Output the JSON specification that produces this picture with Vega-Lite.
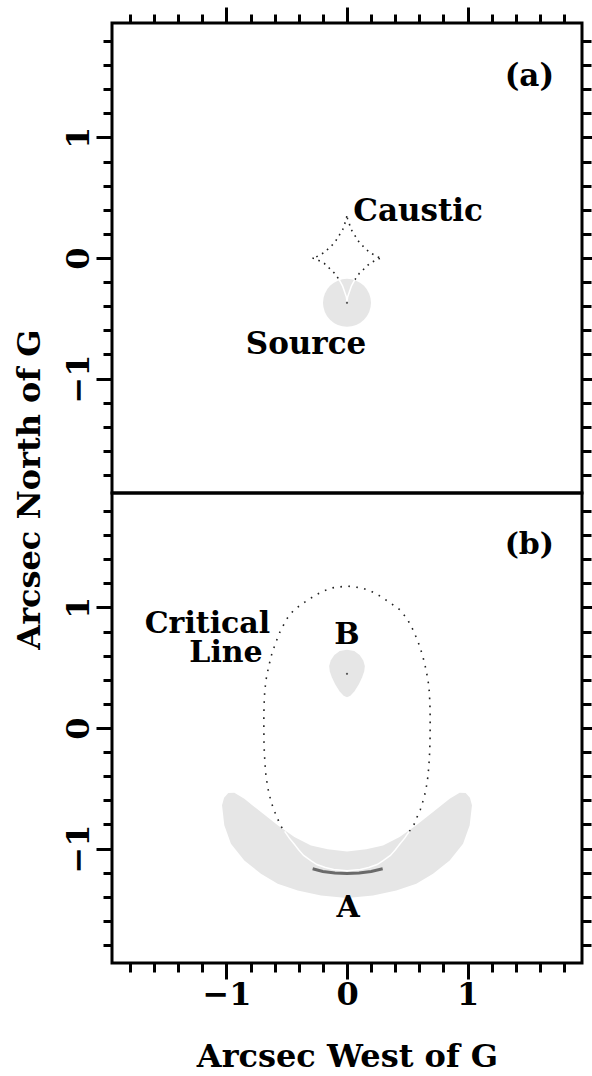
{
  "$schema": "https://vega.github.io/schema/vega-lite/v6.json",
  "padding": {"left": 11, "top": 4, "right": 0, "bottom": 0},
  "background": "white",
  "spacing": 0,
  "bounds": "flush",
  "config": {
    "view": {"stroke": "black", "strokeWidth": 3},
    "font": "DejaVu Serif",
    "axis": {
      "domain": false, "grid": false, "tickColor": "black", "tickWidth": 3, "tickCap": "butt",
      "labelFont": "DejaVu Serif", "labelFontWeight": "bold", "labelFontSize": 32, "labelColor": "black",
      "titleFont": "DejaVu Serif", "titleFontWeight": "bold", "titleFontSize": 32, "titleColor": "black",
      "labelOverlap": false, "labelFlush": false, "labelBound": false
    }
  },
  "datasets": {
    "src": [{"x": 0, "y": -0.372}],
    "bdot": [{"x": 0, "y": 0.45}],
    "causticDot": [
      {"i": 0, "x": 0.0654, "y": -0.1798}, {"i": 1, "x": 0.1025, "y": -0.1273}, {"i": 2, "x": 0.1884, "y": -0.045},
      {"i": 3, "x": 0.2613, "y": -0.0062}, {"i": 4, "x": 0.29, "y": 0}, {"i": 5, "x": 0.2613, "y": 0.0062},
      {"i": 6, "x": 0.1884, "y": 0.045}, {"i": 7, "x": 0.1025, "y": 0.1273}, {"i": 8, "x": 0.0363, "y": 0.2338},
      {"i": 9, "x": 0.005, "y": 0.3244}, {"i": 10, "x": 0, "y": 0.36}, {"i": 11, "x": -0.005, "y": 0.3244},
      {"i": 12, "x": -0.0363, "y": 0.2338}, {"i": 13, "x": -0.1025, "y": 0.1273}, {"i": 14, "x": -0.1884, "y": 0.045},
      {"i": 15, "x": -0.2613, "y": 0.0062}, {"i": 16, "x": -0.29, "y": 0}, {"i": 17, "x": -0.2613, "y": -0.0062},
      {"i": 18, "x": -0.1884, "y": -0.045}, {"i": 19, "x": -0.1025, "y": -0.1273}, {"i": 20, "x": -0.0654, "y": -0.1798}
    ],
    "causticWhite": [
      {"i": 0, "x": -0.0654, "y": -0.1798}, {"i": 1, "x": -0.0363, "y": -0.2338}, {"i": 2, "x": -0.005, "y": -0.3244},
      {"i": 3, "x": 0, "y": -0.36}, {"i": 4, "x": 0.005, "y": -0.3244}, {"i": 5, "x": 0.0363, "y": -0.2338},
      {"i": 6, "x": 0.0654, "y": -0.1798}
    ],
    "labelsA": [
      {"label": "(a)", "x": 1.513, "y": 1.504},
      {"label": "Caustic", "x": 0.59, "y": 0.383},
      {"label": "Source", "x": -0.34, "y": -0.72}
    ],
    "labelsB": [
      {"label": "(b)", "x": 1.513, "y": 1.52},
      {"label": "B", "x": 0, "y": 0.771},
      {"label": "A", "x": 0.01, "y": -1.49},
      {"label": "Critical", "x": -1.158, "y": 0.866},
      {"label": "Line", "x": -1.004, "y": 0.62}
    ],
    "arcA": [
      {"i": 0, "x": -0.985, "y": -0.54}, {"i": 1, "x": -1.02, "y": -0.578}, {"i": 2, "x": -1.037, "y": -0.642},
      {"i": 3, "x": -1.018, "y": -0.808}, {"i": 4, "x": -0.963, "y": -0.961}, {"i": 5, "x": -0.852, "y": -1.099},
      {"i": 6, "x": -0.714, "y": -1.21}, {"i": 7, "x": -0.575, "y": -1.293}, {"i": 8, "x": -0.409, "y": -1.348},
      {"i": 9, "x": -0.216, "y": -1.389}, {"i": 10, "x": 0, "y": -1.41}, {"i": 11, "x": 0.216, "y": -1.389},
      {"i": 12, "x": 0.409, "y": -1.348}, {"i": 13, "x": 0.575, "y": -1.293}, {"i": 14, "x": 0.714, "y": -1.21},
      {"i": 15, "x": 0.852, "y": -1.099}, {"i": 16, "x": 0.963, "y": -0.961}, {"i": 17, "x": 1.018, "y": -0.808},
      {"i": 18, "x": 1.037, "y": -0.642}, {"i": 19, "x": 1.02, "y": -0.578}, {"i": 20, "x": 0.985, "y": -0.54},
      {"i": 21, "x": 0.935, "y": -0.538}, {"i": 22, "x": 0.852, "y": -0.588}, {"i": 23, "x": 0.714, "y": -0.698},
      {"i": 24, "x": 0.575, "y": -0.808}, {"i": 25, "x": 0.437, "y": -0.905}, {"i": 26, "x": 0.299, "y": -0.974},
      {"i": 27, "x": 0.16, "y": -1.007}, {"i": 28, "x": 0, "y": -1.025}, {"i": 29, "x": -0.16, "y": -1.007},
      {"i": 30, "x": -0.299, "y": -0.974}, {"i": 31, "x": -0.437, "y": -0.905}, {"i": 32, "x": -0.575, "y": -0.808},
      {"i": 33, "x": -0.714, "y": -0.698}, {"i": 34, "x": -0.852, "y": -0.588}, {"i": 35, "x": -0.935, "y": -0.538}
    ],
    "blobB": [
      {"i": 0, "x": 0, "y": 0.649}, {"i": 1, "x": 0.06, "y": 0.638}, {"i": 2, "x": 0.105, "y": 0.605},
      {"i": 3, "x": 0.135, "y": 0.56}, {"i": 4, "x": 0.148, "y": 0.515}, {"i": 5, "x": 0.143, "y": 0.47},
      {"i": 6, "x": 0.125, "y": 0.42}, {"i": 7, "x": 0.097, "y": 0.36}, {"i": 8, "x": 0.062, "y": 0.305},
      {"i": 9, "x": 0.028, "y": 0.268}, {"i": 10, "x": 0, "y": 0.256}, {"i": 11, "x": -0.028, "y": 0.268},
      {"i": 12, "x": -0.062, "y": 0.305}, {"i": 13, "x": -0.097, "y": 0.36}, {"i": 14, "x": -0.125, "y": 0.42},
      {"i": 15, "x": -0.143, "y": 0.47}, {"i": 16, "x": -0.148, "y": 0.515}, {"i": 17, "x": -0.135, "y": 0.56},
      {"i": 18, "x": -0.105, "y": 0.605}, {"i": 19, "x": -0.06, "y": 0.638}
    ],
    "critDot": [
      {"i": 0, "x": 0.517, "y": -0.858}, {"i": 1, "x": 0.553, "y": -0.808}, {"i": 2, "x": 0.581, "y": -0.739},
      {"i": 3, "x": 0.608, "y": -0.679}, {"i": 4, "x": 0.628, "y": -0.615}, {"i": 5, "x": 0.647, "y": -0.546},
      {"i": 6, "x": 0.66, "y": -0.48}, {"i": 7, "x": 0.672, "y": -0.4}, {"i": 8, "x": 0.68, "y": -0.3},
      {"i": 9, "x": 0.686, "y": -0.2}, {"i": 10, "x": 0.689, "y": -0.1}, {"i": 11, "x": 0.69, "y": 0},
      {"i": 12, "x": 0.69, "y": 0.1}, {"i": 13, "x": 0.688, "y": 0.2}, {"i": 14, "x": 0.683, "y": 0.3},
      {"i": 15, "x": 0.672, "y": 0.4}, {"i": 16, "x": 0.652, "y": 0.5}, {"i": 17, "x": 0.628, "y": 0.6},
      {"i": 18, "x": 0.595, "y": 0.7}, {"i": 19, "x": 0.555, "y": 0.8}, {"i": 20, "x": 0.5, "y": 0.905},
      {"i": 21, "x": 0.44, "y": 0.98}, {"i": 22, "x": 0.35, "y": 1.045}, {"i": 23, "x": 0.265, "y": 1.1},
      {"i": 24, "x": 0.2, "y": 1.135}, {"i": 25, "x": 0.12, "y": 1.163}, {"i": 26, "x": 0, "y": 1.178},
      {"i": 27, "x": -0.12, "y": 1.163}, {"i": 28, "x": -0.2, "y": 1.135}, {"i": 29, "x": -0.265, "y": 1.1},
      {"i": 30, "x": -0.35, "y": 1.045}, {"i": 31, "x": -0.44, "y": 0.98}, {"i": 32, "x": -0.5, "y": 0.905},
      {"i": 33, "x": -0.555, "y": 0.8}, {"i": 34, "x": -0.595, "y": 0.7}, {"i": 35, "x": -0.628, "y": 0.6},
      {"i": 36, "x": -0.652, "y": 0.5}, {"i": 37, "x": -0.672, "y": 0.4}, {"i": 38, "x": -0.683, "y": 0.3},
      {"i": 39, "x": -0.688, "y": 0.2}, {"i": 40, "x": -0.69, "y": 0.1}, {"i": 41, "x": -0.69, "y": 0},
      {"i": 42, "x": -0.689, "y": -0.1}, {"i": 43, "x": -0.686, "y": -0.2}, {"i": 44, "x": -0.68, "y": -0.3},
      {"i": 45, "x": -0.672, "y": -0.4}, {"i": 46, "x": -0.66, "y": -0.48}, {"i": 47, "x": -0.647, "y": -0.546},
      {"i": 48, "x": -0.628, "y": -0.615}, {"i": 49, "x": -0.608, "y": -0.679}, {"i": 50, "x": -0.581, "y": -0.739},
      {"i": 51, "x": -0.553, "y": -0.808}, {"i": 52, "x": -0.517, "y": -0.858}
    ],
    "critWhite": [
      {"i": 0, "x": -0.517, "y": -0.858}, {"i": 1, "x": -0.48, "y": -0.912}, {"i": 2, "x": -0.44, "y": -0.96},
      {"i": 3, "x": -0.4, "y": -1.012}, {"i": 4, "x": -0.36, "y": -1.057}, {"i": 5, "x": -0.3, "y": -1.1},
      {"i": 6, "x": -0.25, "y": -1.133}, {"i": 7, "x": -0.18, "y": -1.158}, {"i": 8, "x": -0.11, "y": -1.175},
      {"i": 9, "x": 0, "y": -1.185}, {"i": 10, "x": 0.11, "y": -1.175}, {"i": 11, "x": 0.18, "y": -1.158},
      {"i": 12, "x": 0.25, "y": -1.133}, {"i": 13, "x": 0.3, "y": -1.1}, {"i": 14, "x": 0.36, "y": -1.057},
      {"i": 15, "x": 0.4, "y": -1.012}, {"i": 16, "x": 0.44, "y": -0.96}, {"i": 17, "x": 0.48, "y": -0.912},
      {"i": 18, "x": 0.517, "y": -0.858}
    ],
    "darkArc": [
      {"i": 0, "x": -0.285, "y": -1.168}, {"i": 1, "x": -0.2, "y": -1.19}, {"i": 2, "x": -0.1, "y": -1.204},
      {"i": 3, "x": 0, "y": -1.208}, {"i": 4, "x": 0.1, "y": -1.204}, {"i": 5, "x": 0.2, "y": -1.19},
      {"i": 6, "x": 0.296, "y": -1.168}
    ]
  },
  "vconcat": [
    {
      "width": 470, "height": 470,
      "resolve": {"axis": {"x": "independent", "y": "independent"}},
      "layer": [
        {
          "data": {"name": "src"},
          "mark": {"type": "point", "filled": true, "color": "#e6e6e6", "opacity": 1, "size": 2304, "shape": "circle"},
          "encoding": {
            "x": {"field": "x", "type": "quantitative", "scale": {"domain": [-1.95, 1.95], "nice": false, "zero": false},
              "axis": {"orient": "top", "title": null, "labels": false,
                "values": [-1.8,-1.6,-1.4,-1.2,-1,-0.8,-0.6,-0.4,-0.2,0,0.2,0.4,0.6,0.8,1,1.2,1.4,1.6,1.8],
                "tickSize": {"condition": {"test": "abs(datum.value - round(datum.value)) < 0.01", "value": 16}, "value": 9}}},
            "y": {"field": "y", "type": "quantitative", "scale": {"domain": [-1.95, 1.95], "nice": false, "zero": false},
              "axis": {"orient": "left", "title": "Arcsec North of G",
                "values": [-1.8,-1.6,-1.4,-1.2,-1,-0.8,-0.6,-0.4,-0.2,0,0.2,0.4,0.6,0.8,1,1.2,1.4,1.6,1.8],
                "tickSize": {"condition": {"test": "abs(datum.value - round(datum.value)) < 0.01", "value": 16}, "value": 9},
                "labelExpr": "abs(datum.value - round(datum.value)) < 0.01 ? format(round(datum.value), 'd') : ''",
                "labelAngle": -90, "labelAlign": "center", "labelBaseline": "bottom", "labelPadding": 1,
                "titleFontSize": 32, "titleAngle": -90, "titleX": -73, "titleY": 466, "titleAlign": "center", "titleBaseline": "alphabetic"}}
          }
        },
        {
          "data": {"name": "causticDot"},
          "mark": {"type": "line", "color": "#222222", "strokeWidth": 1.6, "strokeDash": [1.6, 4.8]},
          "encoding": {
            "x": {"field": "x", "type": "quantitative", "scale": {"domain": [-1.95, 1.95], "nice": false, "zero": false}, "axis": null},
            "y": {"field": "y", "type": "quantitative", "scale": {"domain": [-1.95, 1.95], "nice": false, "zero": false}, "axis": null},
            "order": {"field": "i", "type": "quantitative"}
          }
        },
        {
          "data": {"name": "causticWhite"},
          "mark": {"type": "line", "color": "white", "strokeWidth": 1.5},
          "encoding": {
            "x": {"field": "x", "type": "quantitative", "scale": {"domain": [-1.95, 1.95], "nice": false, "zero": false}, "axis": null},
            "y": {"field": "y", "type": "quantitative", "scale": {"domain": [-1.95, 1.95], "nice": false, "zero": false}, "axis": null},
            "order": {"field": "i", "type": "quantitative"}
          }
        },
        {
          "data": {"name": "src"},
          "mark": {"type": "point", "filled": true, "color": "#555555", "opacity": 1, "size": 5},
          "encoding": {
            "x": {"field": "x", "type": "quantitative", "scale": {"domain": [-1.95, 1.95], "nice": false, "zero": false}, "axis": null},
            "y": {"field": "y", "type": "quantitative", "scale": {"domain": [-1.95, 1.95], "nice": false, "zero": false},
              "axis": {"orient": "right", "title": null, "labels": false,
                "values": [-1.8,-1.6,-1.4,-1.2,-1,-0.8,-0.6,-0.4,-0.2,0,0.2,0.4,0.6,0.8,1,1.2,1.4,1.6,1.8],
                "tickSize": {"condition": {"test": "abs(datum.value - round(datum.value)) < 0.01", "value": 16}, "value": 9}}}
          }
        },
        {
          "data": {"name": "labelsA"},
          "mark": {"type": "text", "font": "DejaVu Serif", "fontWeight": "bold", "fontSize": 31, "color": "black"},
          "encoding": {
            "x": {"field": "x", "type": "quantitative", "scale": {"domain": [-1.95, 1.95], "nice": false, "zero": false}, "axis": null},
            "y": {"field": "y", "type": "quantitative", "scale": {"domain": [-1.95, 1.95], "nice": false, "zero": false}, "axis": null},
            "text": {"field": "label", "type": "nominal"}
          }
        }
      ]
    },
    {
      "width": 470, "height": 470,
      "resolve": {"axis": {"x": "independent", "y": "independent"}},
      "layer": [
        {
          "data": {"name": "arcA"},
          "mark": {"type": "line", "fill": "#e6e6e6", "stroke": null, "strokeWidth": 0},
          "encoding": {
            "x": {"field": "x", "type": "quantitative", "scale": {"domain": [-1.95, 1.95], "nice": false, "zero": false},
              "axis": {"orient": "bottom", "title": "Arcsec West of G",
                "values": [-1.8,-1.6,-1.4,-1.2,-1,-0.8,-0.6,-0.4,-0.2,0,0.2,0.4,0.6,0.8,1,1.2,1.4,1.6,1.8],
                "tickSize": {"condition": {"test": "abs(datum.value - round(datum.value)) < 0.01", "value": 16}, "value": 9},
                "labelExpr": "abs(datum.value - round(datum.value)) < 0.01 ? format(round(datum.value), 'd') : ''",
                "labelAngle": 0, "labelAlign": "center", "labelBaseline": "top", "labelPadding": 0,
                "titleFontSize": 32, "titleX": 235, "titleY": 103, "titleAlign": "center", "titleBaseline": "alphabetic"}},
            "y": {"field": "y", "type": "quantitative", "scale": {"domain": [-1.95, 1.95], "nice": false, "zero": false},
              "axis": {"orient": "left", "title": null,
                "values": [-1.8,-1.6,-1.4,-1.2,-1,-0.8,-0.6,-0.4,-0.2,0,0.2,0.4,0.6,0.8,1,1.2,1.4,1.6,1.8],
                "tickSize": {"condition": {"test": "abs(datum.value - round(datum.value)) < 0.01", "value": 16}, "value": 9},
                "labelExpr": "abs(datum.value - round(datum.value)) < 0.01 ? format(round(datum.value), 'd') : ''",
                "labelAngle": -90, "labelAlign": "center", "labelBaseline": "bottom", "labelPadding": 1}},
            "order": {"field": "i", "type": "quantitative"}
          }
        },
        {
          "data": {"name": "blobB"},
          "mark": {"type": "line", "fill": "#e6e6e6", "stroke": null, "strokeWidth": 0},
          "encoding": {
            "x": {"field": "x", "type": "quantitative", "scale": {"domain": [-1.95, 1.95], "nice": false, "zero": false}, "axis": null},
            "y": {"field": "y", "type": "quantitative", "scale": {"domain": [-1.95, 1.95], "nice": false, "zero": false},
              "axis": {"orient": "right", "title": null, "labels": false,
                "values": [-1.8,-1.6,-1.4,-1.2,-1,-0.8,-0.6,-0.4,-0.2,0,0.2,0.4,0.6,0.8,1,1.2,1.4,1.6,1.8],
                "tickSize": {"condition": {"test": "abs(datum.value - round(datum.value)) < 0.01", "value": 16}, "value": 9}}},
            "order": {"field": "i", "type": "quantitative"}
          }
        },
        {
          "data": {"name": "critDot"},
          "mark": {"type": "line", "color": "#222222", "strokeWidth": 1.6, "strokeDash": [1.6, 6.4]},
          "encoding": {
            "x": {"field": "x", "type": "quantitative", "scale": {"domain": [-1.95, 1.95], "nice": false, "zero": false}, "axis": null},
            "y": {"field": "y", "type": "quantitative", "scale": {"domain": [-1.95, 1.95], "nice": false, "zero": false}, "axis": null},
            "order": {"field": "i", "type": "quantitative"}
          }
        },
        {
          "data": {"name": "critWhite"},
          "mark": {"type": "line", "color": "white", "strokeWidth": 1.5},
          "encoding": {
            "x": {"field": "x", "type": "quantitative", "scale": {"domain": [-1.95, 1.95], "nice": false, "zero": false}, "axis": null},
            "y": {"field": "y", "type": "quantitative", "scale": {"domain": [-1.95, 1.95], "nice": false, "zero": false}, "axis": null},
            "order": {"field": "i", "type": "quantitative"}
          }
        },
        {
          "data": {"name": "darkArc"},
          "mark": {"type": "line", "color": "#6a6a6a", "strokeWidth": 3},
          "encoding": {
            "x": {"field": "x", "type": "quantitative", "scale": {"domain": [-1.95, 1.95], "nice": false, "zero": false}, "axis": null},
            "y": {"field": "y", "type": "quantitative", "scale": {"domain": [-1.95, 1.95], "nice": false, "zero": false}, "axis": null},
            "order": {"field": "i", "type": "quantitative"}
          }
        },
        {
          "data": {"name": "bdot"},
          "mark": {"type": "point", "filled": true, "color": "#555555", "opacity": 1, "size": 5},
          "encoding": {
            "x": {"field": "x", "type": "quantitative", "scale": {"domain": [-1.95, 1.95], "nice": false, "zero": false}, "axis": null},
            "y": {"field": "y", "type": "quantitative", "scale": {"domain": [-1.95, 1.95], "nice": false, "zero": false}, "axis": null}
          }
        },
        {
          "data": {"name": "labelsB"},
          "mark": {"type": "text", "font": "DejaVu Serif", "fontWeight": "bold", "fontSize": 30, "color": "black"},
          "encoding": {
            "x": {"field": "x", "type": "quantitative", "scale": {"domain": [-1.95, 1.95], "nice": false, "zero": false}, "axis": null},
            "y": {"field": "y", "type": "quantitative", "scale": {"domain": [-1.95, 1.95], "nice": false, "zero": false}, "axis": null},
            "text": {"field": "label", "type": "nominal"}
          }
        }
      ]
    }
  ]
}
